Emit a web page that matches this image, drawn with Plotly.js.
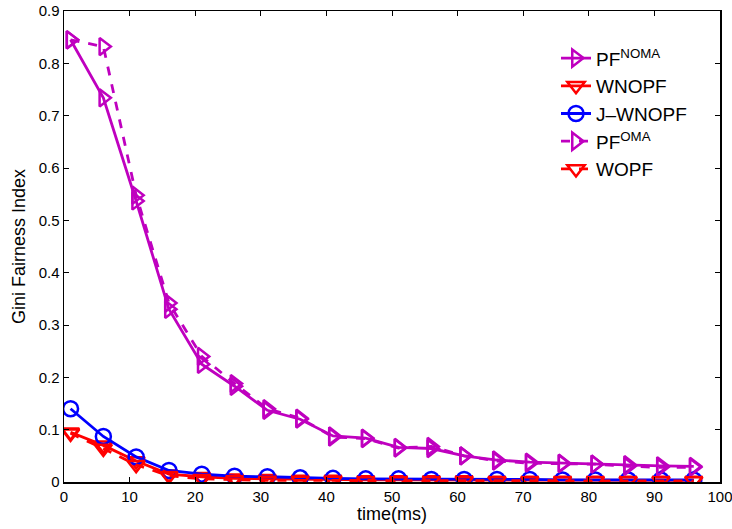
<!DOCTYPE html>
<html>
<head>
<meta charset="utf-8">
<script src="https://cdn.plot.ly/plotly-3.0.1.min.js"></script>
<style>html,body{margin:0;padding:0;background:#fff;}#chart{width:732px;height:529px;}</style>
</head>
<body>
<div id="chart"></div>
<script>
const timeMs = [1,6,11,16,21,26,31,36,41,46,51,56,61,66,71,76,81,86,91,96];
const pfNoma = [0.845,0.734,0.537,0.330,0.225,0.183,0.137,0.120,0.088,0.084,0.066,0.064,0.050,0.042,0.038,0.036,0.034,0.033,0.031,0.030];
const wnopf  = [0.095,0.070,0.040,0.015,0.010,0.007,0.006,0.005,0.005,0.004,0.004,0.004,0.004,0.003,0.003,0.003,0.003,0.003,0.003,0.003];
const jWnopf = [0.140,0.087,0.048,0.022,0.015,0.011,0.010,0.008,0.007,0.006,0.006,0.005,0.005,0.005,0.005,0.004,0.004,0.004,0.004,0.004];
const pfOma  = [0.845,0.832,0.548,0.342,0.240,0.188,0.140,0.122,0.086,0.083,0.065,0.068,0.050,0.040,0.036,0.035,0.034,0.030,0.028,0.028];
const wopf   = [0.093,0.064,0.033,0.012,0.006,0.004,0.003,0.003,0.003,0.002,0.002,0.002,0.002,0.002,0.002,0.002,0.002,0.002,0.002,0.002];
const seriesNames = ['PF<sup>NOMA</sup>','WNOPF','J\u2013WNOPF','PF<sup>OMA</sup>','WOPF'];
const xTicks = [0,10,20,30,40,50,60,70,80,90,100];
const yTicks = [0,0.1,0.2,0.3,0.4,0.5,0.6,0.7,0.8,0.9];
const yTickText = ['0','0.1','0.2','0.3','0.4','0.5','0.6','0.7','0.8','0.9'];

const MAG = '#bf00bf', RED = '#ff0000', BLUE = '#0000ff';
const FAM = 'Liberation Sans, Arial, sans-serif';
function tr(y, name, color, dash, symbol) {
  return {x: timeMs, y: y, name: name, type: 'scatter', mode: 'lines+markers',
    line: {color: color, width: 2.8, dash: dash},
    marker: {symbol: symbol, size: 15, color: color, line: {color: color, width: 2.5}}};
}
const data = [
  tr(pfNoma, seriesNames[0], MAG, 'solid', 'triangle-right-open'),
  tr(wnopf, seriesNames[1], RED, 'solid', 'triangle-down-open'),
  tr(jWnopf, seriesNames[2], BLUE, 'solid', 'circle-open'),
  tr(pfOma, seriesNames[3], MAG, 'dash', 'triangle-right-open'),
  tr(wopf, seriesNames[4], RED, 'dash', 'triangle-down-open')
];
const tickFont = {family: FAM, size: 15, color: '#000'};
const titleFont = {family: FAM, size: 18, color: '#000'};
const layout = {
  width: 732, height: 529,
  margin: {l: 64, r: 12, t: 11, b: 47},
  paper_bgcolor: '#fff', plot_bgcolor: '#fff',
  showlegend: true,
  legend: {x: 0.75, y: 0.94, xanchor: 'left', yanchor: 'top', bgcolor: 'rgba(0,0,0,0)',
    font: {family: FAM, size: 19, color: '#000'}, tracegroupgap: 0},
  xaxis: {range: [0, 100], tickvals: xTicks, ticklabeloverflow: 'allow',
    ticks: 'inside', ticklen: 5, tickwidth: 1, tickcolor: '#000',
    showline: true, linecolor: '#000', linewidth: 1.5, mirror: 'ticks',
    showgrid: false, zeroline: false, tickfont: tickFont,
    title: {text: 'time(ms)', font: titleFont, standoff: 2}},
  yaxis: {range: [0, 0.9], tickvals: yTicks, ticktext: yTickText, ticklabeloverflow: 'allow',
    ticks: 'inside', ticklen: 5, tickwidth: 1, tickcolor: '#000',
    showline: true, linecolor: '#000', linewidth: 1.5, mirror: 'ticks',
    showgrid: false, zeroline: false, tickfont: tickFont,
    title: {text: 'Gini Fairness Index', font: titleFont, standoff: 8}}
};
Plotly.newPlot('chart', data, layout, {displayModeBar: false, staticPlot: true});
</script>
</body>
</html>
